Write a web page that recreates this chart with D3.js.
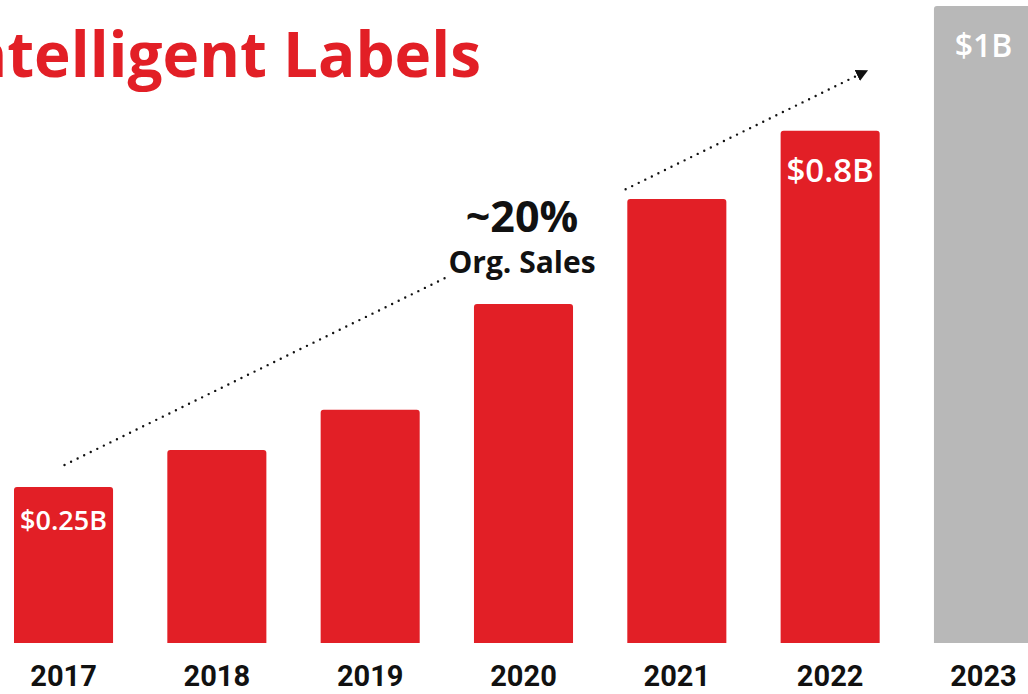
<!DOCTYPE html>
<meta charset="utf-8">
<style>
    body { margin: 0; background: #fff; }
    .year { font: bold 29px Roboto, sans-serif; fill: #111; }
    .title { font: bold 62px "Open Sans", Lato, sans-serif; fill: #e21f26; }
    .val { font-family: "Open Sans", Lato, sans-serif; font-weight: 600; fill: #fff; }
    .note { font-family: "Open Sans", Lato, sans-serif; font-weight: bold; fill: #111; }
</style>
<svg width="1028" height="694"></svg>
<script src="https://cdn.jsdelivr.net/npm/d3@7"></script>
<script>
    var years = ["2017", "2018", "2019", "2020", "2021", "2022", "2023"];
    var sales = [0.245, 0.303, 0.366, 0.532, 0.697, 0.804, 1.0];
    var valueLabels = ["$0.25B", "", "", "", "", "$0.8B", "$1B"];
    var labelSizes = [27, 0, 0, 0, 0, 33, 32];
    var forecast = ["2023"];

    var svg = d3.select("svg");

    var x = d3.scaleBand()
        .domain(years)
        .range([14, 1033])
        .paddingInner(0.354)
        .paddingOuter(0);

    var y = d3.scaleLinear().domain([0, 1]).range([643, 6]);

    var data = years.map(function(yr, i) {
        return { year: yr, value: sales[i], label: valueLabels[i], size: labelSizes[i] };
    });

    // bars with slightly rounded top corners
    function barPath(d) {
        var x0 = x(d.year), w = x.bandwidth(), y0 = y(d.value), yb = y(0), r = 3;
        return "M" + x0 + "," + yb +
            "V" + (y0 + r) + "Q" + x0 + "," + y0 + " " + (x0 + r) + "," + y0 +
            "H" + (x0 + w - r) + "Q" + (x0 + w) + "," + y0 + " " + (x0 + w) + "," + (y0 + r) +
            "V" + yb + "Z";
    }

    svg.selectAll(".bar")
        .data(data)
        .enter().append("path")
        .attr("class", "bar")
        .attr("d", barPath)
        .attr("fill", function(d) { return forecast.indexOf(d.year) >= 0 ? "#b8b8b8" : "#e21f26"; });

    svg.selectAll(".val")
        .data(data.filter(function(d) { return d.label; }))
        .enter().append("text")
        .attr("class", "val")
        .attr("x", function(d) { return x(d.year) + x.bandwidth() / 2; })
        .attr("y", function(d) { return y(d.value) + (d.size < 30 ? 43 : 51); })
        .attr("text-anchor", "middle")
        .style("font-size", function(d) { return d.size + "px"; })
        .text(function(d) { return d.label; });

    // year axis
    var axis = svg.append("g")
        .attr("transform", "translate(0," + y(0) + ")")
        .call(d3.axisBottom(x).tickSize(0).tickPadding(0));
    axis.select(".domain").remove();
    axis.selectAll("text")
        .attr("class", "year")
        .attr("dy", null)
        .attr("y", 43)
        .style("font", null)
        .attr("fill", null);

    // title
    svg.append("text")
        .attr("class", "title")
        .attr("x", 481)
        .attr("y", 77)
        .attr("text-anchor", "end")
        .text("Intelligent Labels");

    // growth arrow annotation
    svg.append("defs").append("marker")
        .attr("id", "arrow")
        .attr("viewBox", "0 0 10 10")
        .attr("refX", 5).attr("refY", 5)
        .attr("markerWidth", 12).attr("markerHeight", 12)
        .attr("markerUnits", "userSpaceOnUse")
        .attr("orient", "auto")
        .append("path")
        .attr("d", "M0,0L10,5L0,10Z")
        .attr("fill", "#111");

    var p0 = [x("2017") + x.bandwidth() / 2 + 1, y(sales[0]) - 22];
    var p1 = [x("2022") + x.bandwidth() - 17, y(sales[5]) - 58];
    var gapA = 0.477, gapB = 0.703;
    function along(t) { return [p0[0] + (p1[0] - p0[0]) * t, p0[1] + (p1[1] - p0[1]) * t]; }

    var segs = [[p0, along(gapA)], [along(gapB), p1]];
    svg.selectAll(".dots")
        .data(segs)
        .enter().append("line")
        .attr("class", "dots")
        .attr("x1", function(d) { return d[0][0]; })
        .attr("y1", function(d) { return d[0][1]; })
        .attr("x2", function(d) { return d[1][0]; })
        .attr("y2", function(d) { return d[1][1]; })
        .attr("stroke", "#111")
        .attr("stroke-width", 2.4)
        .attr("stroke-linecap", "round")
        .attr("stroke-dasharray", "0,7.3")
        .attr("marker-end", function(d, i) { return i === 1 ? "url(#arrow)" : null; });

    svg.append("text")
        .attr("class", "note")
        .attr("x", 522).attr("y", 232)
        .attr("text-anchor", "middle")
        .style("font-size", "43px")
        .text("~20%");

    svg.append("text")
        .attr("class", "note")
        .attr("x", 522).attr("y", 273)
        .attr("text-anchor", "middle")
        .style("font-size", "30px")
        .text("Org. Sales");
</script>
